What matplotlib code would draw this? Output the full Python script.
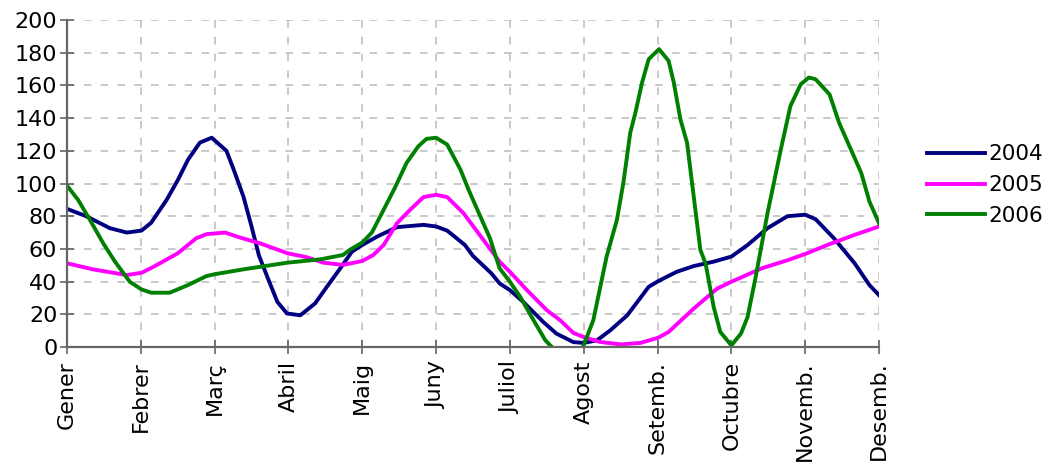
import matplotlib
matplotlib.use("Agg")
import matplotlib.pyplot as plt

months = ["Gener", "Febrer", "Març", "Abril", "Maig", "Juny", "Juliol",
          "Agost", "Setemb.", "Octubre", "Novemb.", "Desemb."]
yticks = list(range(0, 201, 20))

x2004 = [0.0, 0.26, 0.58, 0.81, 1.01, 1.14, 1.35, 1.5, 1.64, 1.8, 1.96, 2.16, 2.25, 2.39,
         2.5, 2.6, 2.73, 2.85, 2.98, 3.16, 3.36, 3.52, 3.7, 3.86, 4.0, 4.2, 4.47, 4.83,
         5.0, 5.15, 5.39, 5.5, 5.75, 5.86, 6.0, 6.18, 6.45, 6.63, 6.86, 7.0, 7.18, 7.36,
         7.59, 7.88, 8.01, 8.26, 8.49, 8.76, 9.0, 9.22, 9.49, 9.76, 10.0, 10.14, 10.39,
         10.67, 10.87, 11.0]
v2004 = [84.5, 80, 72.7, 70, 71.2, 76, 90, 102, 114.6, 125, 128, 120, 109.5, 92,
         73.7, 56, 41, 27.6, 20.5, 19.4, 26.6, 36.8, 48, 58.3, 62.4, 67.5, 73.3, 74.7,
         73.7, 71.2, 62.4, 55.7, 45, 38.9, 34.8, 27.6, 15.4, 8.2, 3, 2.5, 4.1, 10.2,
         19.4, 36.8, 40.3, 46, 49.5, 52.2, 55.3, 62.4, 72.7, 80, 80.9, 78.2, 66.5,
         51.2, 37.9, 31.7]

x2005 = [0.0, 0.35, 0.81, 1.01, 1.17, 1.5, 1.75, 1.89, 2.14, 2.34, 2.61, 2.99, 3.25,
         3.47, 3.74, 4.0, 4.15, 4.29, 4.47, 4.65, 4.83, 5.0, 5.15, 5.37, 5.59, 5.86,
         6.0, 6.23, 6.5, 6.68, 6.86, 7.0, 7.22, 7.5, 7.77, 8.01, 8.15, 8.49, 8.81, 9.0,
         9.41, 9.77, 10.0, 10.3, 10.67, 11.0]
v2005 = [51.2, 47.5, 44, 45.4, 49, 57.3, 66.5, 69, 70, 67, 63.5, 57.3, 54.9, 51.6,
         50.2, 52.6, 56.3, 62.4, 75.7, 84, 91.7, 93.1, 91.7, 81.9, 68.6, 52.2, 46,
         34.8, 22.5, 16.4, 8.6, 6.1, 3.1, 1.6, 2.5, 5.7, 9.2, 23.5, 35.8, 39.9, 48.1,
         53.2, 56.9, 62.4, 68.6, 73.7]

x2006 = [0.0, 0.15, 0.31, 0.49, 0.65, 0.85, 1.01, 1.14, 1.39, 1.64, 1.89, 2.01, 2.39,
         2.99, 3.43, 3.74, 3.83, 4.0, 4.13, 4.29, 4.44, 4.6, 4.76, 4.87, 5.0, 5.15,
         5.33, 5.44, 5.5, 5.73, 5.86, 6.0, 6.14, 6.32, 6.48, 6.59, 6.73, 6.84, 6.93,
         6.99, 7.13, 7.31, 7.45, 7.54, 7.63, 7.7, 7.79, 7.88, 8.02, 8.15, 8.22, 8.31,
         8.4, 8.49, 8.58, 8.65, 8.76, 8.85, 9.0, 9.13, 9.22, 9.33, 9.49, 9.67, 9.8,
         9.94, 10.05, 10.14, 10.33, 10.46, 10.64, 10.76, 10.87, 11.0]
v2006 = [98.7, 90, 77.8, 63.5, 52.2, 39.9, 35.2, 33.2, 33.2, 37.9, 43.4, 44.6, 47.5,
         51.6, 53.6, 56.3, 59.4, 63.9, 70, 84, 97.2, 112.6, 122.8, 127.3, 128, 123.8,
         108.5, 96.2, 90, 66.5, 48.1, 39.9, 30.7, 16.4, 4.1, -1, -8, -10, -6, 0, 16.4,
         55.3, 77.8, 101.3, 131, 143.3, 161.7, 176, 182.2, 175, 161.7, 139.2, 124.9,
         92.1, 59.4, 51.2, 24.6, 9.2, 1, 8.2, 18.4, 43, 81.9, 120.8, 147.4, 160.7,
         164.8, 163.8, 154.5, 137.1, 118.7, 106.4, 89, 75.7]

plt.rcParams['font.family'] = ['DejaVu Sans']

fig = plt.figure(figsize=(10.48, 4.65), dpi=100)
ax = fig.add_axes([67 / 1048, 1 - 347 / 465, (879 - 67) / 1048, (347 - 20) / 465])

ax.plot(x2004, v2004, color="#000080", lw=2.8, label="2004", solid_joinstyle="round")
ax.plot(x2005, v2005, color="#ff00ff", lw=2.8, label="2005", solid_joinstyle="round")
ax.plot(x2006, v2006, color="#008000", lw=2.8, label="2006", solid_joinstyle="round")

ax.set_xlim(0, 11)
ax.set_ylim(0, 200)
ax.set_xticks(range(len(months)))
ax.set_xticklabels(months, rotation=90, fontsize=16)
ax.set_yticks(yticks)
ax.set_yticklabels([str(t) for t in yticks], fontsize=16)

ax.grid(True, color="#bbbbbb", linestyle=(0, (5, 6)), linewidth=1.1)
ax.set_axisbelow(True)
for s in ["top", "right"]:
    ax.spines[s].set_visible(False)
for s in ["left", "bottom"]:
    ax.spines[s].set_color("#666666")
    ax.spines[s].set_linewidth(1.6)
ax.tick_params(axis="y", direction="inout", length=10, color="#666666", width=1.2, pad=2)
ax.tick_params(axis="x", direction="inout", length=10, color="#666666", width=1.2, pad=5)

leg = ax.legend(loc="center left", bbox_to_anchor=(1.035, 0.495), frameon=False,
                fontsize=15.5, handlelength=2.7, handletextpad=0.15, labelspacing=0.5)

fig.savefig("out.png", dpi=100)
